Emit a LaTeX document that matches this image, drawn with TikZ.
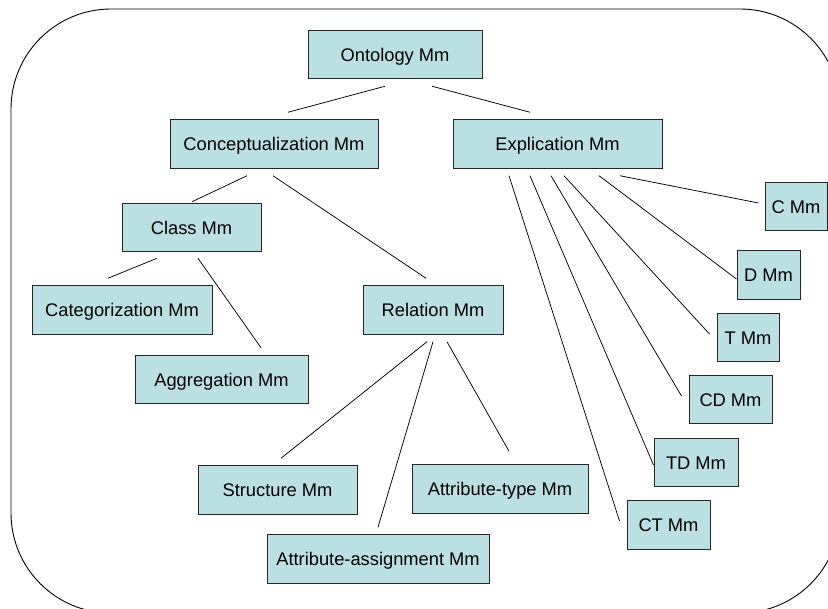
\documentclass[tikz,border=0pt]{standalone}
\usepackage{fontspec}
\setmainfont{Liberation Sans}
\usetikzlibrary{calc}
\definecolor{boxfill}{RGB}{187,224,227}
\begin{document}
\begin{tikzpicture}[x=1pt,y=-1pt,
  mm/.style={draw=black!85, line width=1pt, fill=boxfill, minimum height=48.5pt,
             inner sep=0pt, text height=13.1pt, text depth=0pt,
             font=\fontsize{18.3}{22}\selectfont},
  link/.style={line width=0.75pt}]
\useasboundingbox (0,0) rectangle (828,609);
\clip (0,0) rectangle (828,609);
% outer frame
\draw[line width=0.9pt, rounded corners=100pt] (11,9) rectangle (840,613);

% metamodel boxes
\node[mm, minimum width=174pt] (onto)    at (395,54.5)   {Ontology Mm};
\node[mm, minimum width=208pt] (conc)    at (274,144)    {Conceptualization Mm};
\node[mm, minimum width=209pt] (expl)    at (557.5,144)  {Explication Mm};
\node[mm, minimum width=139pt] (class)   at (191.5,227.5){Class Mm};
\node[mm, minimum width=180pt] (categ)   at (122,310)    {Categorization Mm};
\node[mm, minimum width=173pt] (aggr)    at (221.5,379.5){Aggregation Mm};
\node[mm, minimum width=140pt] (rel)     at (433,310)    {Relation Mm};
\node[mm, minimum width=159pt] (struct)  at (277.5,490)  {Structure Mm};
\node[mm, minimum width=176pt] (atype)   at (500,489)    {Attribute-type Mm};
\node[mm, minimum width=222pt] (aassign) at (378,559)    {Attribute-assignment Mm};
\node[mm, minimum width=62pt]  (cmm)     at (796,206.5)  {C Mm};
\node[mm, minimum width=63pt]  (dmm)     at (768.5,275)  {D Mm};
\node[mm, minimum width=62pt]  (tmm)     at (748,337.5)  {T Mm};
\node[mm, minimum width=83pt]  (cdmm)    at (730.5,399.5){CD Mm};
\node[mm, minimum width=84pt]  (tdmm)    at (696,462.5)  {TD Mm};
\node[mm, minimum width=83pt]  (ctmm)    at (668.5,525)  {CT Mm};

% connectors
\draw[link] ($(onto.south)+(-10,7)$) -- ($(conc.north)+(14,-7)$);
\draw[link] ($(onto.south)+(37,7)$) -- ($(expl.north)+(-27.5,-7)$);
\draw[link] ($(conc.south)+(-27,7)$) -- ($(class.north)+(0.5,-1)$);
\draw[link] ($(conc.south)+(-1,7)$) -- ($(rel.north)+(-7,-7)$);
\draw[link] ($(class.south)+(-34.5,6)$) -- ($(categ.north)+(-14,-7)$);
\draw[link] ($(class.south)+(6.5,6)$) -- ($(aggr.north)+(39.5,-7)$);
\draw[link] ($(rel.south)+(-6,7)$) -- ($(struct.north)+(3.5,-7)$);
\draw[link] ($(rel.south)+(0,7)$) -- ($(aassign.north)+(0,-7)$);
\draw[link] ($(rel.south)+(14,7)$) -- ($(atype.north)+(9,-13)$);
\draw[link] ($(expl.south)+(-48.5,7)$) -- ($(ctmm.west)+(-7,-4)$);
\draw[link] ($(expl.south)+(-27.5,7)$) -- ($(tdmm.west)+(0,2.5)$);
\draw[link] ($(expl.south)+(-6.5,7)$) -- ($(cdmm.west)+(-7,-3.5)$);
\draw[link] ($(expl.south)+(6.5,7)$) -- ($(tmm.west)+(-7,-3.5)$);
\draw[link] ($(expl.south)+(41.5,7)$) -- ($(dmm.west)+(0,4)$);
\draw[link] ($(expl.south)+(62.5,7)$) -- ($(cmm.west)+(-6,-3.5)$);
\end{tikzpicture}
\end{document}
